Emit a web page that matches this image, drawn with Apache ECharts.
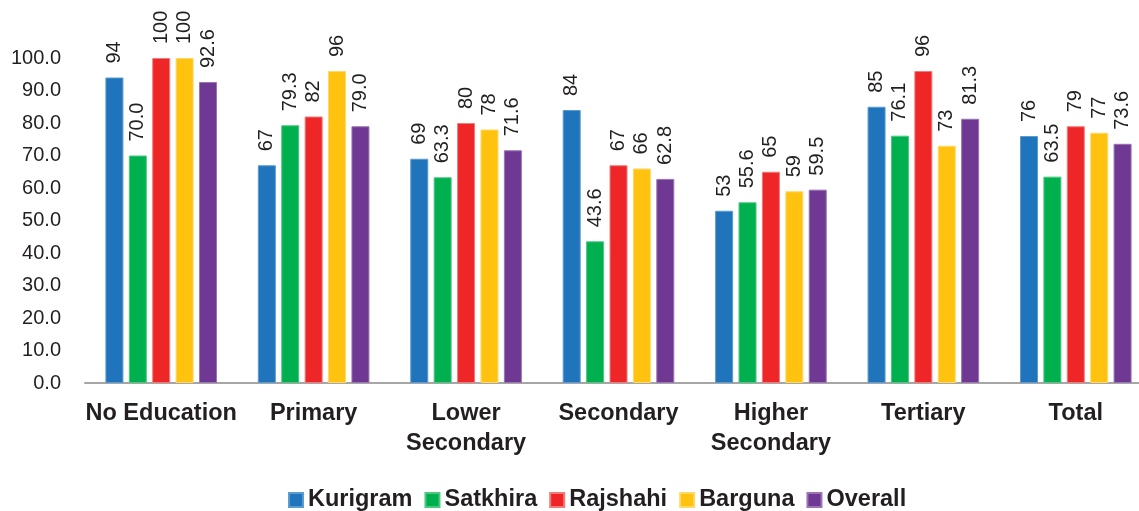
<!DOCTYPE html>
<html>
<head>
<meta charset="utf-8">
<script src="https://cdn.jsdelivr.net/npm/echarts@6/dist/echarts.min.js"></script>
<style>
  html, body { margin: 0; padding: 0; background: #ffffff; }
  #chart { width: 1139px; height: 511px; }
</style>
</head>
<body>
<div id="chart"></div>
<script>
// Education levels along the x axis
const categories = ['No Education', 'Primary', 'Lower\nSecondary', 'Secondary', 'Higher\nSecondary', 'Tertiary', 'Total'];

// Percentages per district
const kurigram = [94, 67, 69, 84, 53, 85, 76];
const satkhira = [70.0, 79.3, 63.3, 43.6, 55.6, 76.1, 63.5];
const rajshahi = [100, 82, 80, 67, 65, 96, 79];
const barguna  = [100, 96, 78, 66, 59, 73, 77];
const overall  = [92.6, 79.0, 71.6, 62.8, 59.5, 81.3, 73.6];

// Decimal places shown in each series' value labels
const seriesNames = ['Kurigram', 'Satkhira', 'Rajshahi', 'Barguna', 'Overall'];
const seriesData = [kurigram, satkhira, rajshahi, barguna, overall];
const seriesDecimals = [0, 1, 0, 0, 1];
const seriesColors = ['#1f74bb', '#00b04f', '#ee2627', '#ffc20e', '#6e3893'];
const seriesEdges = ['#5a9bd0', '#4cc883', '#f47a7a', '#ffd966', '#9a74b3'];

// Y axis range and step
const yMin = 0, yMax = 100, yStep = 10;

const FONT = "'Liberation Sans', Arial, Helvetica, sans-serif";
const TEXT = '#231f20';

const chart = echarts.init(document.getElementById('chart'), null, { renderer: 'canvas' });

chart.setOption({
  animation: false,
  backgroundColor: '#ffffff',
  // plot area runs a little past the right edge so the last group sits near the border
  grid: { left: 85, right: -13, top: 58, bottom: 128, containLabel: false, outerBoundsMode: 'none' },
  legend: {
    left: 283,
    top: 483,
    itemWidth: 14,
    itemHeight: 14,
    itemGap: 12,
    icon: 'rect',
    textStyle: { fontFamily: FONT, fontSize: 23.5, fontWeight: 'bold', color: TEXT },
    data: seriesNames
  },
  xAxis: {
    type: 'category',
    data: categories,
    axisLine: { show: true, lineStyle: { color: '#a6a6a6', width: 2 } },
    axisTick: { show: false },
    axisLabel: {
      interval: 0,
      margin: 16,
      fontFamily: FONT,
      fontSize: 23.5,
      fontWeight: 'bold',
      color: TEXT,
      lineHeight: 30
    }
  },
  yAxis: {
    type: 'value',
    min: yMin,
    max: yMax,
    interval: yStep,
    axisLine: { show: false },
    axisTick: { show: false },
    splitLine: { show: false },
    axisLabel: {
      margin: 24,
      fontFamily: FONT,
      fontSize: 20,
      color: TEXT,
      formatter: v => v.toFixed(1)
    }
  },
  series: seriesNames.map((name, i) => ({
    name,
    type: 'bar',
    data: seriesData[i],
    barWidth: 18,
    barGap: '30%',
    itemStyle: { color: seriesColors[i], borderColor: seriesEdges[i], borderWidth: 1 },
    label: {
      show: true,
      position: 'top',
      rotate: 90,
      align: 'left',
      verticalAlign: 'middle',
      distance: 14,
      fontFamily: FONT,
      fontSize: 20,
      color: TEXT,
      formatter: p => Number(p.value).toFixed(seriesDecimals[i])
    }
  }))
});
</script>
</body>
</html>
